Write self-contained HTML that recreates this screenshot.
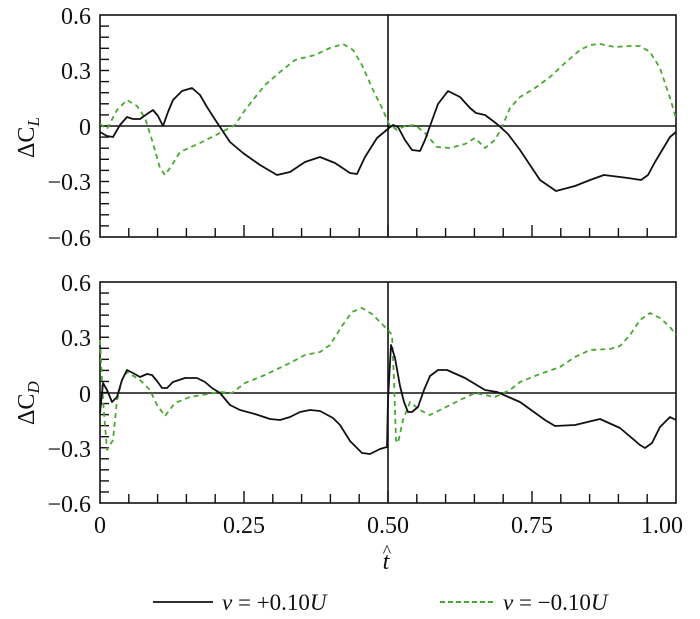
<!DOCTYPE html>
<html><head><meta charset="utf-8"><style>
html,body{margin:0;padding:0;background:#fff;}
svg{display:block;}
text{font-family:"Liberation Serif","Times New Roman",Times,serif;}
</style></head><body>
<svg id="s" width="700" height="619" viewBox="0 0 700 619" xmlns="http://www.w3.org/2000/svg">
<g fill="none" stroke="#111" stroke-width="1.6">
<rect x="100" y="15" width="576" height="222"/>
<rect x="100" y="282" width="576" height="221"/>
<line x1="100" y1="126" x2="676" y2="126"/>
<line x1="100" y1="393" x2="676" y2="393"/>
<line x1="388" y1="15" x2="388" y2="237"/>
<line x1="388" y1="282" x2="388" y2="503"/>
</g>
<g id="ticks" stroke="#111" stroke-width="1.4"></g>
<g fill="none" stroke-width="1.8" stroke-linejoin="round">
<polyline stroke="#4aa832" stroke-dasharray="5,4" points="100,124 107,129 117,110 127,100 137,106 145,118 152,140 160,168 165,175 172,165 180,152 200,143 220,133 235,125 245,110 265,85 280,72 295,60 315,55 330,48 343,44 353,50 362,65 373,90 382,108 389,124 397,130 405,126 415,125 425,133 437,147 450,148 465,144 475,138 485,148 495,140 502,127 510,108 520,97 535,88 550,77 565,63 580,50 590,45 600,44 615,47 630,46 640,46 650,52 660,68 670,98 676,118"/>
<polyline stroke="#111" points="100,132 107,136 113,137 120,125 127,117 133,119 140,119 147,114 153,110 158,116 163,126 168,112 173,100 182,91 192,88 200,95 207,107 214,118 220,127 230,142 243,153 260,165 277,175 290,172 305,162 320,157 335,163 350,173 357,174 365,157 377,138 389,128 393,125 398,127 405,140 412,150 420,151 425,140 430,126 438,104 448,91 460,97 470,108 476,113 485,115 497,124 508,134 520,150 530,165 540,180 556,191 575,186 590,180 604,175 628,178 641,180 648,175 655,162 670,137 676,132"/>
<polyline stroke="#4aa832" stroke-dasharray="5,4" points="100,340 103,400 107,450 113,440 117,400 122,380 127,372 140,380 150,390 157,405 165,416 175,403 190,397 220,392 232,393 245,383 265,375 290,363 305,355 320,352 330,345 342,326 352,312 362,308 372,314 380,322 388,330 392,335 394,380 396,440 398,443 403,420 410,402 420,410 430,415 440,410 460,400 475,393 485,395 495,397 510,390 520,382 540,374 560,367 575,357 590,350 610,349 620,346 630,335 640,320 650,313 660,318 670,327 676,335"/>
<polyline stroke="#111" points="100,413 103,383 107,390 112,402 117,397 122,380 127,370 133,373 140,377 147,374 152,375 157,381 162,388 167,388 173,382 185,378 197,378 205,382 212,388 220,393 230,405 240,410 255,414 270,419 280,420 290,417 300,412 310,410 320,411 333,418 340,425 350,441 362,453 370,454 380,449 387,447 388,400 391,345 395,358 400,386 404,402 408,412 412,412 418,407 424,390 430,376 438,370 447,370 465,378 485,390 497,392 520,402 545,420 555,426 575,425 600,419 620,428 640,445 645,448 652,443 660,427 670,417 676,420"/>
</g>
<g font-size="24" fill="#111" text-anchor="end">
<text x="91" y="24">0.6</text><text x="91" y="79">0.3</text><text x="91" y="135">0</text><text x="91" y="190">−0.3</text><text x="91" y="246">−0.6</text>
<text x="91" y="291">0.6</text><text x="91" y="346">0.3</text><text x="91" y="402">0</text><text x="91" y="457">−0.3</text><text x="91" y="512">−0.6</text>
</g>
<g font-size="24" fill="#111" text-anchor="middle">
<text x="100" y="533">0</text><text x="244" y="533">0.25</text><text x="388" y="533">0.50</text><text x="532" y="533">0.75</text><text x="662" y="533">1.00</text>
<text x="386" y="569" font-style="italic">t</text><text x="387" y="557" font-size="18">^</text>
</g>
<g font-size="24" fill="#111">
<text transform="translate(34,158) rotate(-90)">ΔC<tspan font-style="italic" font-size="17" dy="5">L</tspan></text>
<text transform="translate(34,425) rotate(-90)">ΔC<tspan font-style="italic" font-size="17" dy="5">D</tspan></text>
<text x="222" y="610" font-style="italic" font-size="23">v<tspan font-style="normal"> = +0.10</tspan>U</text>
<text x="503" y="610" font-style="italic" font-size="23">v<tspan font-style="normal"> = −0.10</tspan>U</text>
</g>
<line x1="153" y1="602" x2="213" y2="602" stroke="#111" stroke-width="1.8"/>
<line x1="440" y1="602" x2="495" y2="602" stroke="#4aa832" stroke-width="2" stroke-dasharray="5,3"/>
</svg>
<script>
var g=document.getElementById('ticks'),h='';
[[15,237],[282,503]].forEach(function(p){
 var t=p[0],b=p[1];
 for(var i=1;i<20;i++){var y=t+(b-t)*i/20;h+='<line x1="100" x2="109" y1="'+y+'" y2="'+y+'"/>';}
 for(var j=1;j<20;j++){var x=100+576*j/20;var L=(j%5==0)?12:9;h+='<line x1="'+x+'" x2="'+x+'" y1="'+b+'" y2="'+(b-L)+'"/>';}
});
g.innerHTML=h;
</script>
</body></html>
